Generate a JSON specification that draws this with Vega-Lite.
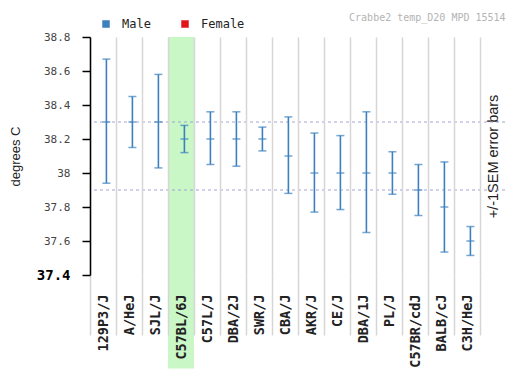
{
  "$schema": "https://vega.github.io/schema/vega-lite/v6.json",
  "width": 415,
  "height": 238,
  "autosize": {"type": "none"},
  "padding": {"left": 90, "top": 37, "right": 6, "bottom": 115},
  "background": "white",
  "config": {"view": {"stroke": null}},
  "title": {"text": "Crabbe2 temp_D20 MPD 15514", "anchor": "end", "fontSize": 10, "font": "DejaVu Sans Mono", "fontWeight": "normal", "color": "#b4b4b4", "offset": -5},
  "datasets": {
    "strains": [
      {"strain": "129P3/J", "sex": "Male", "mean": 38.3, "low": 37.94, "high": 38.67},
      {"strain": "A/HeJ", "sex": "Male", "mean": 38.3, "low": 38.15, "high": 38.45},
      {"strain": "SJL/J", "sex": "Male", "mean": 38.3, "low": 38.03, "high": 38.58},
      {"strain": "C57BL/6J", "sex": "Male", "mean": 38.2, "low": 38.12, "high": 38.28},
      {"strain": "C57L/J", "sex": "Male", "mean": 38.2, "low": 38.05, "high": 38.36},
      {"strain": "DBA/2J", "sex": "Male", "mean": 38.2, "low": 38.04, "high": 38.36},
      {"strain": "SWR/J", "sex": "Male", "mean": 38.2, "low": 38.13, "high": 38.27},
      {"strain": "CBA/J", "sex": "Male", "mean": 38.1, "low": 37.88, "high": 38.33},
      {"strain": "AKR/J", "sex": "Male", "mean": 38.0, "low": 37.77, "high": 38.235},
      {"strain": "CE/J", "sex": "Male", "mean": 38.0, "low": 37.785, "high": 38.22},
      {"strain": "DBA/1J", "sex": "Male", "mean": 38.0, "low": 37.65, "high": 38.36},
      {"strain": "PL/J", "sex": "Male", "mean": 38.0, "low": 37.875, "high": 38.125},
      {"strain": "C57BR/cdJ", "sex": "Male", "mean": 37.9, "low": 37.75, "high": 38.05},
      {"strain": "BALB/cJ", "sex": "Male", "mean": 37.8, "low": 37.535, "high": 38.065},
      {"strain": "C3H/HeJ", "sex": "Male", "mean": 37.6, "low": 37.515, "high": 37.685}
    ],
    "refs": [{"level": 38.3}, {"level": 37.9}],
    "highlight": [{"strain": "C57BL/6J"}]
  },
  "data": {"name": "strains"},
  "resolve": {"axis": {"y": "independent"}},
  "layer": [
    {
      "data": {"name": "highlight"},
      "mark": {"type": "rect", "color": "#c9f7c6"},
      "encoding": {
        "x": {
          "field": "strain", "type": "nominal",
          "scale": {"domain": ["129P3/J", "A/HeJ", "SJL/J", "C57BL/6J", "C57L/J", "DBA/2J", "SWR/J", "CBA/J", "AKR/J", "CE/J", "DBA/1J", "PL/J", "C57BR/cdJ", "BALB/cJ", "C3H/HeJ"], "range": [0, 390], "paddingInner": 0, "paddingOuter": 0},
          "axis": {
            "title": null, "domain": false, "grid": true, "tickBand": "extent",
            "gridColor": "#d6d6d6", "gridWidth": 1.5, "tickColor": "#d6d6d6", "tickWidth": 1.5, "tickSize": 60,
            "labelAngle": 270, "labelPadding": -41, "labelFont": "DejaVu Sans Mono", "labelFontSize": 13.5, "labelFontWeight": "bold", "labelColor": "#222", "zindex": 1
          }
        },
        "y": {
          "datum": 38.8, "type": "quantitative",
          "scale": {"domain": [37.4, 38.8], "nice": false, "zero": false},
          "axis": {
            "title": "degrees C", "titleFont": "Liberation Sans", "titleFontSize": 13, "titleFontWeight": "normal", "titleColor": "#222", "titlePadding": 14,
            "values": [37.4, 37.6, 37.8, 38.0, 38.2, 38.4, 38.6, 38.8], "format": ".3~r",
            "grid": false, "domainColor": "#000", "domainWidth": 1.5, "tickColor": "#000", "tickWidth": 1.5, "tickSize": 8, "labelPadding": 12,
            "labelFont": "DejaVu Sans Mono",
            "labelFontSize": {"condition": {"test": "datum.value == 37.4", "value": 14}, "value": 11},
            "labelFontWeight": {"condition": {"test": "datum.value == 37.4", "value": "bold"}, "value": "normal"},
            "labelColor": {"condition": {"test": "datum.value == 37.4", "value": "#000"}, "value": "#444"},
            "zindex": 2
          }
        },
        "y2": {"datum": 36.85}
      }
    },
    {
      "data": {"name": "refs"},
      "mark": {"type": "rule", "color": "#a3a3d6", "strokeDash": [3, 3], "strokeWidth": 1.2},
      "encoding": {
        "y": {
          "field": "level", "type": "quantitative",
          "axis": {"orient": "right", "title": "+/-1SEM error bars", "labels": false, "ticks": false, "domain": false, "grid": false, "titleAngle": 270, "titlePadding": -5, "titleFont": "Liberation Sans", "titleFontSize": 14.5, "titleFontWeight": "normal", "titleColor": "#222"}
        }
      }
    },
    {
      "mark": {"type": "rule", "strokeWidth": 1.6, "xOffset": 3.4},
      "encoding": {
        "x": {"field": "strain", "type": "nominal"},
        "y": {"field": "low", "type": "quantitative", "axis": null},
        "y2": {"field": "high"},
        "color": {
          "field": "sex", "type": "nominal",
          "scale": {"domain": ["Male", "Female"], "range": ["#3c80bf", "#e0161c"]},
          "legend": {
            "orient": "none", "legendX": 10, "legendY": -19, "direction": "horizontal", "title": null,
            "symbolType": "square", "symbolSize": 36, "labelFont": "DejaVu Sans Mono", "labelFontSize": 12, "labelColor": "#222",
            "labelOffset": 10, "columnPadding": 28,
            "encode": {"symbols": {"update": {"fill": {"scale": "color", "field": "value"}, "stroke": {"value": "transparent"}}}}
          }
        }
      }
    },
    {
      "mark": {"type": "tick", "size": 8, "thickness": 1.5, "xOffset": 3.4},
      "encoding": {
        "x": {"field": "strain", "type": "nominal"},
        "y": {"field": "low", "type": "quantitative", "axis": null},
        "color": {"field": "sex", "type": "nominal"}
      }
    },
    {
      "mark": {"type": "tick", "size": 8, "thickness": 1.5, "xOffset": 3.4},
      "encoding": {
        "x": {"field": "strain", "type": "nominal"},
        "y": {"field": "high", "type": "quantitative", "axis": null},
        "color": {"field": "sex", "type": "nominal"}
      }
    },
    {
      "mark": {"type": "tick", "size": 8, "thickness": 1.5, "xOffset": 3.4},
      "encoding": {
        "x": {"field": "strain", "type": "nominal"},
        "y": {"field": "mean", "type": "quantitative", "axis": null},
        "color": {"field": "sex", "type": "nominal"}
      }
    }
  ]
}
